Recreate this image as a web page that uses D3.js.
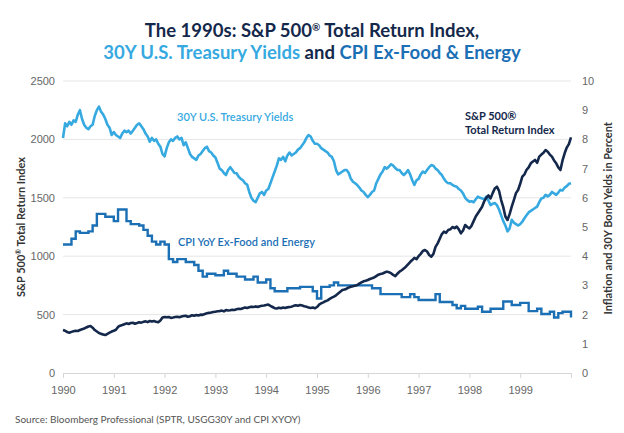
<!DOCTYPE html>
<html>
<head>
<meta charset="utf-8">
<script src="https://cdn.jsdelivr.net/npm/d3@7"></script>
<style>
  body { margin: 0; background: #fff; }
  svg { display: block; font-family: Lato, "Open Sans", sans-serif; }
</style>
</head>
<body>
<svg id="chart" width="624" height="433"></svg>
<script>
// year ticks along the bottom
var years = [1990, 1991, 1992, 1993, 1994, 1995, 1996, 1997, 1998, 1999];
var leftTicks = [0, 500, 1000, 1500, 2000, 2500];
var rightTicks = [0, 1, 2, 3, 4, 5, 6, 7, 8, 9, 10];

// S&P 500 total return index, twice a month from Jan 1990 to Jan 2000
var spx = [
  368, 362, 350, 345, 352, 358, 362, 360, 368, 375, 380, 390, 398, 402, 388, 368, 355, 342, 335, 330, 325, 335, 345, 355,
  362, 370, 394, 405, 411, 418, 425, 420, 428, 430, 422, 428, 435, 431, 438, 442, 436, 445, 440, 445, 438, 435, 450, 475,
  479, 477, 480, 472, 475, 479, 482, 478, 484, 488, 490, 482, 486, 495, 490, 497, 492, 500, 498, 505, 511, 515, 518, 522,
  525, 528, 530, 534, 528, 539, 535, 538, 542, 540, 545, 550, 548, 555, 560, 556, 562, 568, 565, 570, 566, 572, 575, 578,
  582, 586, 575, 565, 555, 552, 558, 554, 560, 556, 562, 565, 568, 575, 580, 576, 582, 578, 572, 568, 560, 556, 560, 554,
  565, 585, 597, 605, 615, 622, 635, 645, 654, 665, 680, 695, 710, 715, 722, 733, 738, 742, 748, 753, 765, 775, 785, 790,
  796, 805, 811, 818, 830, 842, 847, 852, 860, 868, 862, 855, 840, 830, 850, 868, 880, 895, 910, 930, 950, 967, 985, 975,
  1000, 1020, 1045, 1053, 1040, 1010, 996, 1020, 1080, 1110, 1150, 1190, 1210, 1200, 1224, 1230, 1250, 1240, 1253, 1230, 1196, 1220, 1267, 1250,
  1239, 1260, 1300, 1340, 1367, 1396, 1424, 1470, 1500, 1520, 1495, 1540, 1580, 1595, 1560, 1481, 1420, 1340, 1310, 1360, 1424, 1480, 1540, 1567,
  1620, 1681, 1700, 1740, 1760, 1795, 1810, 1824, 1800, 1852, 1870, 1885, 1909, 1895, 1870, 1852, 1820, 1795, 1760, 1738, 1820, 1881, 1930, 1960,
  2018
];

// 30Y US Treasury yield in percent, same dates
var ust30 = [
  8.05, 8.55, 8.45, 8.6, 8.5, 8.65, 8.6, 8.85, 9.0, 8.7, 8.5, 8.4, 8.35, 8.45, 8.5, 8.8, 9.0, 9.12, 8.95, 8.85, 8.7, 8.5, 8.4, 8.15,
  8.25, 8.15, 8.1, 8.05, 8.2, 8.3, 8.25, 8.3, 8.2, 8.3, 8.4, 8.5, 8.55, 8.45, 8.35, 8.2, 8.1, 7.92, 8.05, 7.95, 8.0, 7.85, 7.75, 7.5,
  7.42, 7.7, 7.9, 8.0, 7.95, 8.05, 8.1, 8.0, 8.05, 7.8, 7.9, 7.7, 7.5, 7.4, 7.35, 7.3, 7.45, 7.5, 7.6, 7.7, 7.75, 7.6, 7.55, 7.45,
  7.38, 7.2, 7.0, 6.95, 6.85, 6.78, 6.95, 7.05, 6.95, 6.85, 6.84, 6.72, 6.65, 6.6, 6.5, 6.45, 6.2, 6.0, 5.9, 5.85, 6.0, 6.15, 6.2, 6.1,
  6.25, 6.3, 6.5, 6.7, 6.9, 7.1, 7.35, 7.3, 7.4, 7.25, 7.45, 7.55, 7.45, 7.5, 7.55, 7.65, 7.7, 7.8, 7.9, 8.05, 8.15, 8.1, 7.95, 7.85,
  7.85, 7.8, 7.7, 7.65, 7.6, 7.55, 7.45, 7.4, 7.25, 6.95, 6.8, 6.85, 6.9, 6.95, 6.95, 6.85, 6.65, 6.55, 6.5, 6.44, 6.35, 6.25, 6.2, 6.1,
  6.02, 6.1, 6.2, 6.25, 6.5, 6.65, 6.8, 6.9, 7.05, 7.0, 7.07, 7.15, 7.1, 7.02, 6.95, 6.95, 6.85, 6.78, 6.85, 6.95, 6.8, 6.6, 6.44, 6.6,
  6.65, 6.8, 6.9, 6.85, 6.95, 7.05, 7.12, 7.1, 7.0, 6.95, 6.85, 6.78, 6.65, 6.55, 6.5, 6.5, 6.44, 6.4, 6.38, 6.3, 6.25, 6.15, 6.0, 5.92,
  5.87, 5.88, 5.85, 5.95, 6.04, 6.0, 5.98, 5.95, 6.04, 5.9, 5.75, 5.8, 5.82, 5.75, 5.6, 5.4, 5.2, 5.05, 4.85, 4.95, 5.25, 5.15, 5.1, 5.05,
  5.1, 5.18, 5.3, 5.4, 5.5, 5.55, 5.6, 5.65, 5.7, 5.85, 5.98, 6.0, 6.1, 6.05, 6.1, 6.2, 6.15, 6.1, 6.18, 6.27, 6.25, 6.35, 6.4, 6.48,
  6.5
];

// CPI ex food & energy YoY in percent, monthly from Jan 1990 to Jan 2000
var cpiCore = [
  4.4, 4.4, 4.6, 4.85, 4.8, 4.8, 4.85, 5.05, 5.45, 5.45, 5.35, 5.35,
  5.2, 5.6, 5.6, 5.2, 5.1, 5.1, 5.05, 4.9, 4.7, 4.5, 4.4, 4.5,
  4.4, 3.9, 3.8, 3.9, 3.9, 3.8, 3.8, 3.7, 3.5, 3.3, 3.4, 3.4,
  3.35, 3.35, 3.5, 3.4, 3.4, 3.3, 3.3, 3.2, 3.2, 3.3, 3.1, 3.1,
  3.2, 2.9, 2.8, 2.8, 2.8, 2.9, 2.9, 2.9, 2.95, 2.95, 2.95, 2.8,
  2.55, 2.95, 2.95, 3.0, 3.1, 3.0, 3.0, 3.0, 3.0, 3.0, 3.0, 3.0,
  3.0, 2.9, 2.9, 2.7, 2.7, 2.7, 2.7, 2.7, 2.6, 2.6, 2.7, 2.6,
  2.5, 2.5, 2.5, 2.5, 2.7, 2.43, 2.43, 2.43, 2.33, 2.22, 2.3, 2.2,
  2.2, 2.2, 2.27, 2.1, 2.1, 2.2, 2.2, 2.2, 2.45, 2.45, 2.33, 2.33,
  2.4, 2.4, 2.12, 2.12, 2.2, 2.02, 2.02, 2.1, 1.9, 2.05, 2.1, 2.1,
  1.9
];

var navy = "#14284b", lightBlue = "#36a9e1", midBlue = "#1b6fb5";

chart();

function chart() {
    var svg = d3.select("#chart"),
        margin = {top: 81, left: 63, bottom: 60, right: 53},
        width = +svg.attr("width"),
        height = +svg.attr("height");

    var x = d3.scaleLinear()
        .domain([1990, 2000])
        .range([margin.left, width - margin.right]);

    var yLeft = d3.scaleLinear()
        .domain([0, 2500])
        .range([height - margin.bottom, margin.top]);

    var yRight = d3.scaleLinear()
        .domain([0, 10])
        .range([height - margin.bottom, margin.top]);

    // title, two lines, the second one coloured per series
    var title = svg.append("text")
        .attr("text-anchor", "middle")
        .attr("font-weight", 700)
        .attr("font-size", 18.5);
    var line1 = title.append("tspan").attr("x", width / 2).attr("y", 37).attr("fill", navy);
    line1.append("tspan").text("The 1990s: S&P 500");
    line1.append("tspan").attr("font-size", 10).attr("dy", -6).text("®");
    line1.append("tspan").attr("dy", 6).text(" Total Return Index,");
    var line2 = title.append("tspan").attr("x", width / 2).attr("y", 59);
    line2.append("tspan").attr("fill", lightBlue).text("30Y U.S. Treasury Yields");
    line2.append("tspan").attr("fill", navy).text(" and ");
    line2.append("tspan").attr("fill", midBlue).text("CPI Ex-Food & Energy");

    // horizontal grid lines
    svg.append("g").selectAll("line")
        .data(leftTicks.slice(1))
        .join("line")
        .attr("x1", x(1990)).attr("x2", x(2000))
        .attr("y1", d => yLeft(d)).attr("y2", d => yLeft(d))
        .attr("stroke", "#e6e6e6").attr("stroke-width", 1);

    // bottom axis
    var xAxis = svg.append("g")
        .attr("transform", `translate(0,${height - margin.bottom})`)
        .call(d3.axisBottom(x).tickValues(years.concat([2000])).tickFormat(d => d < 2000 ? d : "")
            .tickSize(5).tickSizeOuter(0).tickPadding(8));
    xAxis.select(".domain").attr("stroke", "#d6d6d6");
    xAxis.selectAll(".tick line").attr("stroke", "#d6d6d6");
    xAxis.selectAll("text").attr("fill", "#666").attr("font-size", 11);

    var yAxisLeft = svg.append("g")
        .attr("transform", `translate(${margin.left},0)`)
        .call(d3.axisLeft(yLeft).tickValues(leftTicks).tickFormat(d3.format("d")).tickSize(0).tickPadding(8));
    yAxisLeft.select(".domain").remove();
    yAxisLeft.selectAll("text").attr("fill", "#666").attr("font-size", 11);

    var yAxisRight = svg.append("g")
        .attr("transform", `translate(${width - margin.right},0)`)
        .call(d3.axisRight(yRight).tickValues(rightTicks).tickFormat(d3.format("d")).tickSize(0).tickPadding(11));
    yAxisRight.select(".domain").remove();
    yAxisRight.selectAll("text").attr("fill", "#666").attr("font-size", 11);

    // axis titles
    var leftTitle = svg.append("text")
        .attr("transform", `translate(25,${yLeft(1250)}) rotate(-90)`)
        .attr("text-anchor", "middle").attr("font-size", 11).attr("font-weight", 700)
        .attr("fill", "#333");
    leftTitle.append("tspan").text("S&P 500");
    leftTitle.append("tspan").attr("font-size", 7).attr("dy", -4).text("®");
    leftTitle.append("tspan").attr("dy", 4).text(" Total Return Index");
    svg.append("text")
        .attr("transform", `translate(612,${yRight(5.3)}) rotate(-90)`)
        .attr("text-anchor", "middle").attr("font-size", 11).attr("font-weight", 700)
        .attr("fill", "#333").text("Inflation and 30Y Bond Yelds in Percent");

    // series lines
    var cpiLine = d3.line()
        .x((d, i) => x(1990 + i / 12))
        .y(d => yRight(d))
        .curve(d3.curveStepAfter);
    var ustLine = d3.line()
        .x((d, i) => x(1990 + i / 24))
        .y(d => yRight(d));
    var spxLine = d3.line()
        .x((d, i) => x(1990 + i / 24))
        .y(d => yLeft(d));

    svg.append("path").datum(cpiCore).attr("d", cpiLine)
        .attr("fill", "none").attr("stroke", midBlue).attr("stroke-width", 2.4);
    svg.append("path").datum(ust30).attr("d", ustLine)
        .attr("fill", "none").attr("stroke", lightBlue).attr("stroke-width", 2.6)
        .attr("stroke-linejoin", "round");
    svg.append("path").datum(spx).attr("d", spxLine)
        .attr("fill", "none").attr("stroke", navy).attr("stroke-width", 2.6)
        .attr("stroke-linejoin", "round");

    // series labels
    svg.append("text").attr("x", 177).attr("y", 121)
        .attr("font-size", 11).attr("font-weight", 600).attr("fill", lightBlue)
        .text("30Y U.S. Treasury Yields");
    svg.append("text").attr("x", 178).attr("y", 246)
        .attr("font-size", 11).attr("font-weight", 600).attr("fill", midBlue)
        .text("CPI YoY Ex-Food and Energy");
    var spxLabel = svg.append("text").attr("font-size", 11).attr("font-weight", 700).attr("fill", navy);
    spxLabel.append("tspan").attr("x", 465).attr("y", 120).text("S&P 500®");
    spxLabel.append("tspan").attr("x", 465).attr("y", 134).text("Total Return Index");

    // source note
    svg.append("text").attr("x", 15).attr("y", 423)
        .attr("font-size", 10).attr("fill", "#555")
        .text("Source: Bloomberg Professional (SPTR, USGG30Y and CPI XYOY)");
}
</script>
</body>
</html>
